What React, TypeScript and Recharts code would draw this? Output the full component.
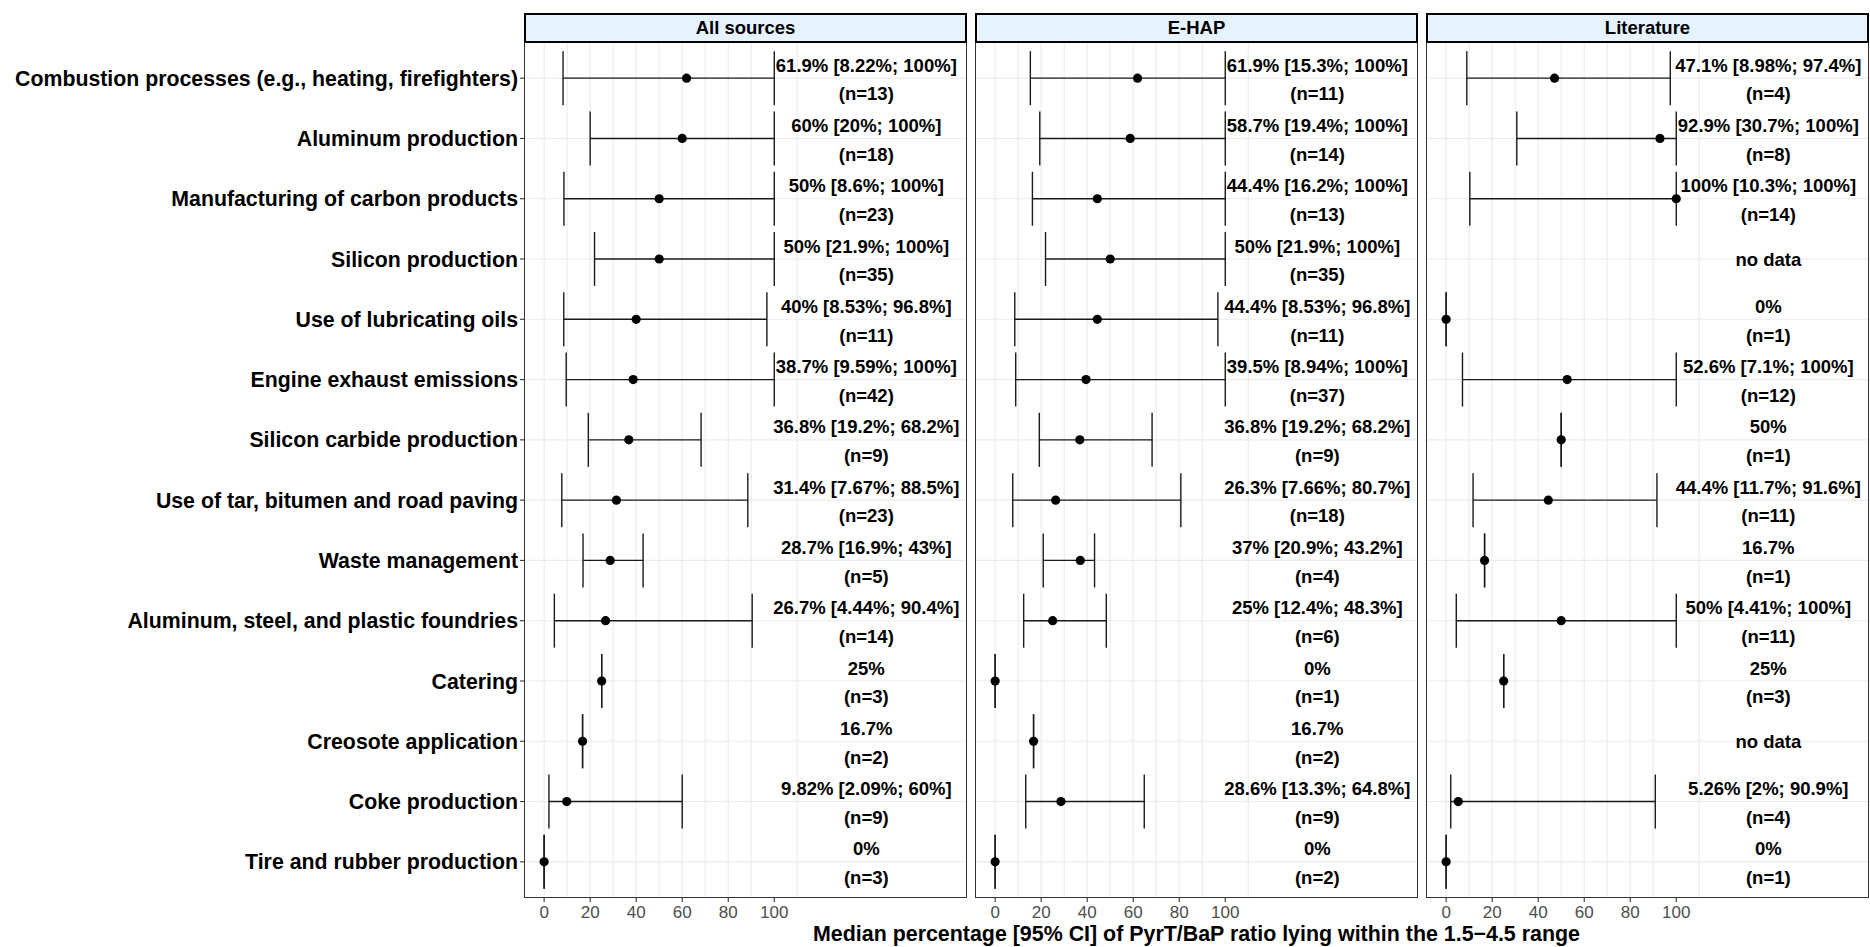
import { ScatterChart, Scatter, XAxis, YAxis, CartesianGrid, ErrorBar } from 'recharts';

const sources = [
  'Combustion processes (e.g., heating, firefighters)',
  'Aluminum production',
  'Manufacturing of carbon products',
  'Silicon production',
  'Use of lubricating oils',
  'Engine exhaust emissions',
  'Silicon carbide production',
  'Use of tar, bitumen and road paving',
  'Waste management',
  'Aluminum, steel, and plastic foundries',
  'Catering',
  'Creosote application',
  'Coke production',
  'Tire and rubber production',
];

// All sources
const allMedian = [61.9, 60, 50, 50, 40, 38.7, 36.8, 31.4, 28.7, 26.7, 25, 16.7, 9.82, 0];
const allLow = [8.22, 20, 8.6, 21.9, 8.53, 9.59, 19.2, 7.67, 16.9, 4.44, 25, 16.7, 2.09, 0];
const allHigh = [100, 100, 100, 100, 96.8, 100, 68.2, 88.5, 43, 90.4, 25, 16.7, 60, 0];
const allN = [13, 18, 23, 35, 11, 42, 9, 23, 5, 14, 3, 2, 9, 3];

// E-HAP
const ehapMedian = [61.9, 58.7, 44.4, 50, 44.4, 39.5, 36.8, 26.3, 37, 25, 0, 16.7, 28.6, 0];
const ehapLow = [15.3, 19.4, 16.2, 21.9, 8.53, 8.94, 19.2, 7.66, 20.9, 12.4, 0, 16.7, 13.3, 0];
const ehapHigh = [100, 100, 100, 100, 96.8, 100, 68.2, 80.7, 43.2, 48.3, 0, 16.7, 64.8, 0];
const ehapN = [11, 14, 13, 35, 11, 37, 9, 18, 4, 6, 1, 2, 9, 2];

// Literature (null = no data)
const litMedian = [47.1, 92.9, 100, null, 0, 52.6, 50, 44.4, 16.7, 50, 25, null, 5.26, 0];
const litLow = [8.98, 30.7, 10.3, null, 0, 7.1, 50, 11.7, 16.7, 4.41, 25, null, 2, 0];
const litHigh = [97.4, 100, 100, null, 0, 100, 50, 91.6, 16.7, 100, 25, null, 90.9, 0];
const litN = [4, 8, 14, null, 1, 12, 1, 11, 1, 11, 3, null, 4, 1];

const xTicks = [0, 20, 40, 60, 80, 100];
const gridX = [0, 10, 20, 30, 40, 50, 60, 70, 80, 90, 100, 110];
const LABEL_X = 140;

const FONT = '"Liberation Sans", Arial, sans-serif';
const PANEL_W = 443;
const Y_AXIS_W = 524;
const PLOT_TOP = 42;
const PLOT_BOTTOM = 898;
const rowIdx = sources.map((_, i) => i + 1);

type PanelProps = {
  title: string;
  left: number;
  median: (number | null)[];
  low: (number | null)[];
  high: (number | null)[];
  n: (number | null)[];
  showY: boolean;
};

function Dot(props: any) {
  const { cx, cy } = props;
  if (cx == null || cy == null) return null;
  return <circle cx={cx} cy={cy} r={4.6} fill="#000" />;
}

function Label(props: any) {
  const { cx, cy, payload } = props;
  if (cx == null || cy == null) return null;
  const txt = { textAnchor: 'middle' as const, fontFamily: FONT, fontWeight: 'bold', fontSize: 18.5, fill: '#000' };
  if (payload.line2 == null) {
    return (
      <text x={cx} y={cy + 6.6} {...txt}>
        {payload.line1}
      </text>
    );
  }
  return (
    <g>
      <text x={cx} y={cy - 6.4} {...txt}>
        {payload.line1}
      </text>
      <text x={cx} y={cy + 22.3} {...txt}>
        {payload.line2}
      </text>
    </g>
  );
}

function Panel({ title, left, median, low, high, n, showY }: PanelProps) {
  const points = sources
    .map((s, i) => ({
      row: i + 1,
      source: s,
      value: median[i],
      err: median[i] == null ? null : [median[i]! - low[i]!, high[i]! - median[i]!],
    }))
    .filter((d) => d.value != null);

  const labels = sources.map((s, i) => {
    const m = median[i];
    let line1 = 'no data';
    let line2: string | null = null;
    if (m != null) {
      line1 = low[i] === high[i] ? `${m}%` : `${m}% [${low[i]}%; ${high[i]}%]`;
      line2 = `(n=${n[i]})`;
    }
    return { row: i + 1, value: LABEL_X, line1, line2 };
  });

  const chartLeft = showY ? 0 : left;
  const chartW = showY ? Y_AXIS_W + PANEL_W : PANEL_W;

  return (
    <>
      <div style={{ position: 'absolute', left: chartLeft, top: 0 }}>
        <ScatterChart width={chartW} height={947} margin={{ top: PLOT_TOP, right: 0, bottom: 0, left: 0 }}>
          <CartesianGrid stroke="#EBEBEB" strokeWidth={1.1} verticalValues={gridX} horizontalValues={rowIdx} />
          <XAxis
            type="number"
            dataKey="value"
            domain={[-8.75, 183.75]}
            ticks={xTicks}
            allowDataOverflow
            height={947 - PLOT_BOTTOM}
            axisLine={false}
            tickSize={4}
            tickMargin={4}
            tickLine={{ stroke: '#333', strokeWidth: 1.1 }}
            tick={{ fill: '#4D4D4D', fontSize: 17, fontFamily: FONT }}
          />
          <YAxis
            type="number"
            dataKey="row"
            domain={[0.4, 14.6]}
            reversed
            ticks={rowIdx}
            interval={0}
            allowDataOverflow
            hide={!showY}
            width={showY ? Y_AXIS_W : 0}
            axisLine={false}
            tickSize={4}
            tickLine={{ stroke: '#333', strokeWidth: 1.1 }}
            tickFormatter={(v: number) => sources[v - 1] ?? ''}
            tick={{ fill: '#000', fontSize: 21.3, fontWeight: 'bold', fontFamily: FONT }}
          />
          <Scatter data={points} dataKey="value" shape={<Dot />} isAnimationActive={false}>
            <ErrorBar dataKey="err" direction="x" width={27} stroke="#1a1a1a" strokeWidth={1.4} />
          </Scatter>
          <Scatter data={labels} dataKey="value" shape={<Label />} isAnimationActive={false} />
        </ScatterChart>
      </div>
      <div
        style={{
          position: 'absolute',
          left,
          top: PLOT_TOP,
          width: PANEL_W,
          height: PLOT_BOTTOM - PLOT_TOP,
          boxSizing: 'border-box',
          border: '1.6px solid #333',
          pointerEvents: 'none',
        }}
      />
      <div
        style={{
          position: 'absolute',
          left,
          top: 13,
          width: PANEL_W,
          height: 30,
          boxSizing: 'border-box',
          border: '2.4px solid #000',
          background: '#E6F3FF',
          fontFamily: FONT,
          fontWeight: 'bold',
          fontSize: 18.5,
          lineHeight: '25px',
          textAlign: 'center',
          color: '#000',
        }}
      >
        {title}
      </div>
    </>
  );
}

export default function App() {
  return (
    <div style={{ position: 'absolute', left: 0, top: 0, width: 1870, height: 947, background: '#fff', overflow: 'hidden' }}>
      <Panel title="All sources" left={524} median={allMedian} low={allLow} high={allHigh} n={allN} showY />
      <Panel title="E-HAP" left={975} median={ehapMedian} low={ehapLow} high={ehapHigh} n={ehapN} showY={false} />
      <Panel title="Literature" left={1426} median={litMedian} low={litLow} high={litHigh} n={litN} showY={false} />
      <div
        style={{
          position: 'absolute',
          left: 524,
          top: 922,
          width: 1345,
          textAlign: 'center',
          fontFamily: FONT,
          fontWeight: 'bold',
          fontSize: 21.4,
          lineHeight: '25px',
          color: '#000',
        }}
      >
        Median percentage [95% CI] of PyrT/BaP ratio lying within the 1.5−4.5 range
      </div>
    </div>
  );
}
